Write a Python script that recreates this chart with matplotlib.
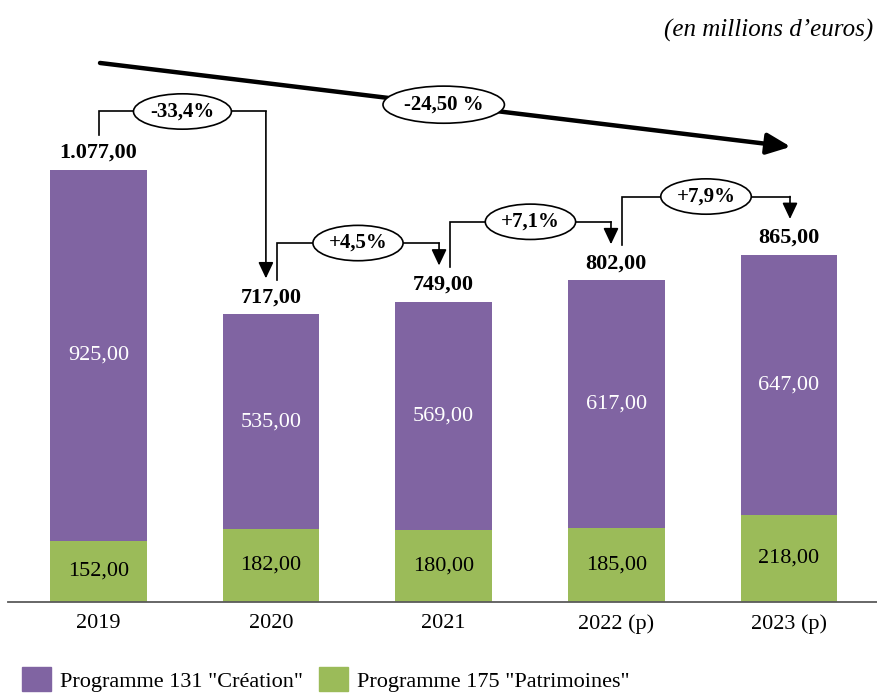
import matplotlib
matplotlib.use("Agg")
import matplotlib.pyplot as plt
from matplotlib.patches import Patch

# ---- data ----
years = ["2019", "2020", "2021", "2022 (p)", "2023 (p)"]
creation = [925, 535, 569, 617, 647]       # Programme 131 "Création"
patrimoines = [152, 182, 180, 185, 218]    # Programme 175 "Patrimoines"
step_labels = ["-33,4%", "+4,5%", "+7,1%", "+7,9%"]
overall_label = "-24,50 %"
series_names = ['Programme 131 "Création"', 'Programme 175 "Patrimoines"']
unit_label = "(en millions d\u2019euros)"

PURPLE = "#8064A2"
GREEN = "#9BBB59"
FONT = "Liberation Serif"
plt.rcParams["font.family"] = [FONT, "DejaVu Serif"]


def fr(v):
    s = f"{v:,.2f}"
    return s.replace(",", "X").replace(".", ",").replace("X", ".")


totals = [c + p for c, p in zip(creation, patrimoines)]
x = list(range(len(years)))

W, H = 877, 693
fig = plt.figure(figsize=(W / 100, H / 100), dpi=100)
ax = fig.add_axes([8 / W, (H - 602) / H, (W - 8) / W, 602 / H])
ax.set_xlim(-0.524, 4.510)
ax.set_ylim(0, 1501)

ax.bar(x, patrimoines, width=0.56, color=GREEN, zorder=2)
ax.bar(x, creation, bottom=patrimoines, width=0.56, color=PURPLE, zorder=2)

for i in x:
    ax.text(i, patrimoines[i] / 2, fr(patrimoines[i]), ha="center", va="center",
            fontsize=16, color="black")
    ax.text(i, patrimoines[i] + creation[i] / 2, fr(creation[i]), ha="center",
            va="center", fontsize=16, color="white")
    ax.annotate(fr(totals[i]), (i, totals[i]), xytext=(0, 12.3),
                textcoords="offset points", ha="center", va="center",
                fontsize=16, fontweight="bold")

# axes styling
for s in ["top", "right", "left"]:
    ax.spines[s].set_visible(False)
ax.spines["bottom"].set_color("#5a5a5a")
ax.spines["bottom"].set_linewidth(1.3)
ax.set_yticks([])
ax.set_xticks(x)
ax.set_xticklabels(years, fontsize=16)
ax.tick_params(axis="x", length=0, pad=8.5)

# step connectors
start_dx = [0.003, 0.034, 0.036, 0.033]
end_dx = [-0.030, -0.027, -0.031, 0.006]
for k in range(len(step_labels)):
    i, j = k, k + 1
    xs = i + start_dx[k]
    xe = j + end_dx[k]
    y0 = totals[i] + 87
    yh = max(totals[i], totals[j]) + 146
    yt = totals[j] + 90
    ax.plot([xs, xs, xe], [y0, yh, yh], color="black", lw=1.2, zorder=3,
            solid_joinstyle="miter")
    ax.annotate("", xy=(xe, yt), xytext=(xe, yh),
                arrowprops=dict(arrowstyle="-|>,head_length=0.7,head_width=0.33",
                                color="black", lw=1.2, shrinkA=0, shrinkB=0,
                                mutation_scale=14), zorder=3)
    ax.text((xs + xe) / 2, yh, step_labels[k], ha="center", va="center",
            fontsize=15, fontweight="bold", zorder=4,
            bbox=dict(boxstyle="ellipse,pad=0.12", fc="white", ec="black", lw=1.2))

# overall arrow
xa0, ya0 = 0.009, 1344
xa1, ya1 = 4.01, 1135
ax.annotate("", xy=(xa1, ya1), xytext=(xa0, ya0),
            arrowprops=dict(arrowstyle="-|>,head_length=0.9,head_width=0.4",
                            color="black", lw=3.2, shrinkA=0, shrinkB=0,
                            mutation_scale=16), zorder=3)
xm = 2.0
ym = ya0 + (ya1 - ya0) * (xm - xa0) / (xa1 - xa0)
ax.text(xm, ym, overall_label, ha="center", va="center", fontsize=15,
        fontweight="bold", zorder=4,
        bbox=dict(boxstyle="ellipse,pad=0.15", fc="white", ec="black", lw=1.2))

# unit label
fig.text(873 / W, 1 - 30 / H, unit_label, ha="right", va="center",
         fontsize=18, style="italic")

# legend
handles = [Patch(color=PURPLE), Patch(color=GREEN)]
fig.legend(handles, series_names, loc="upper left",
           bbox_to_anchor=(22 / W, (H - 667) / H), frameon=False, ncol=2,
           fontsize=16, handlelength=1.3, handleheight=1.3,
           handletextpad=0.4, columnspacing=0.75, borderpad=0,
           borderaxespad=0)

fig.savefig("out.png", dpi=100)
